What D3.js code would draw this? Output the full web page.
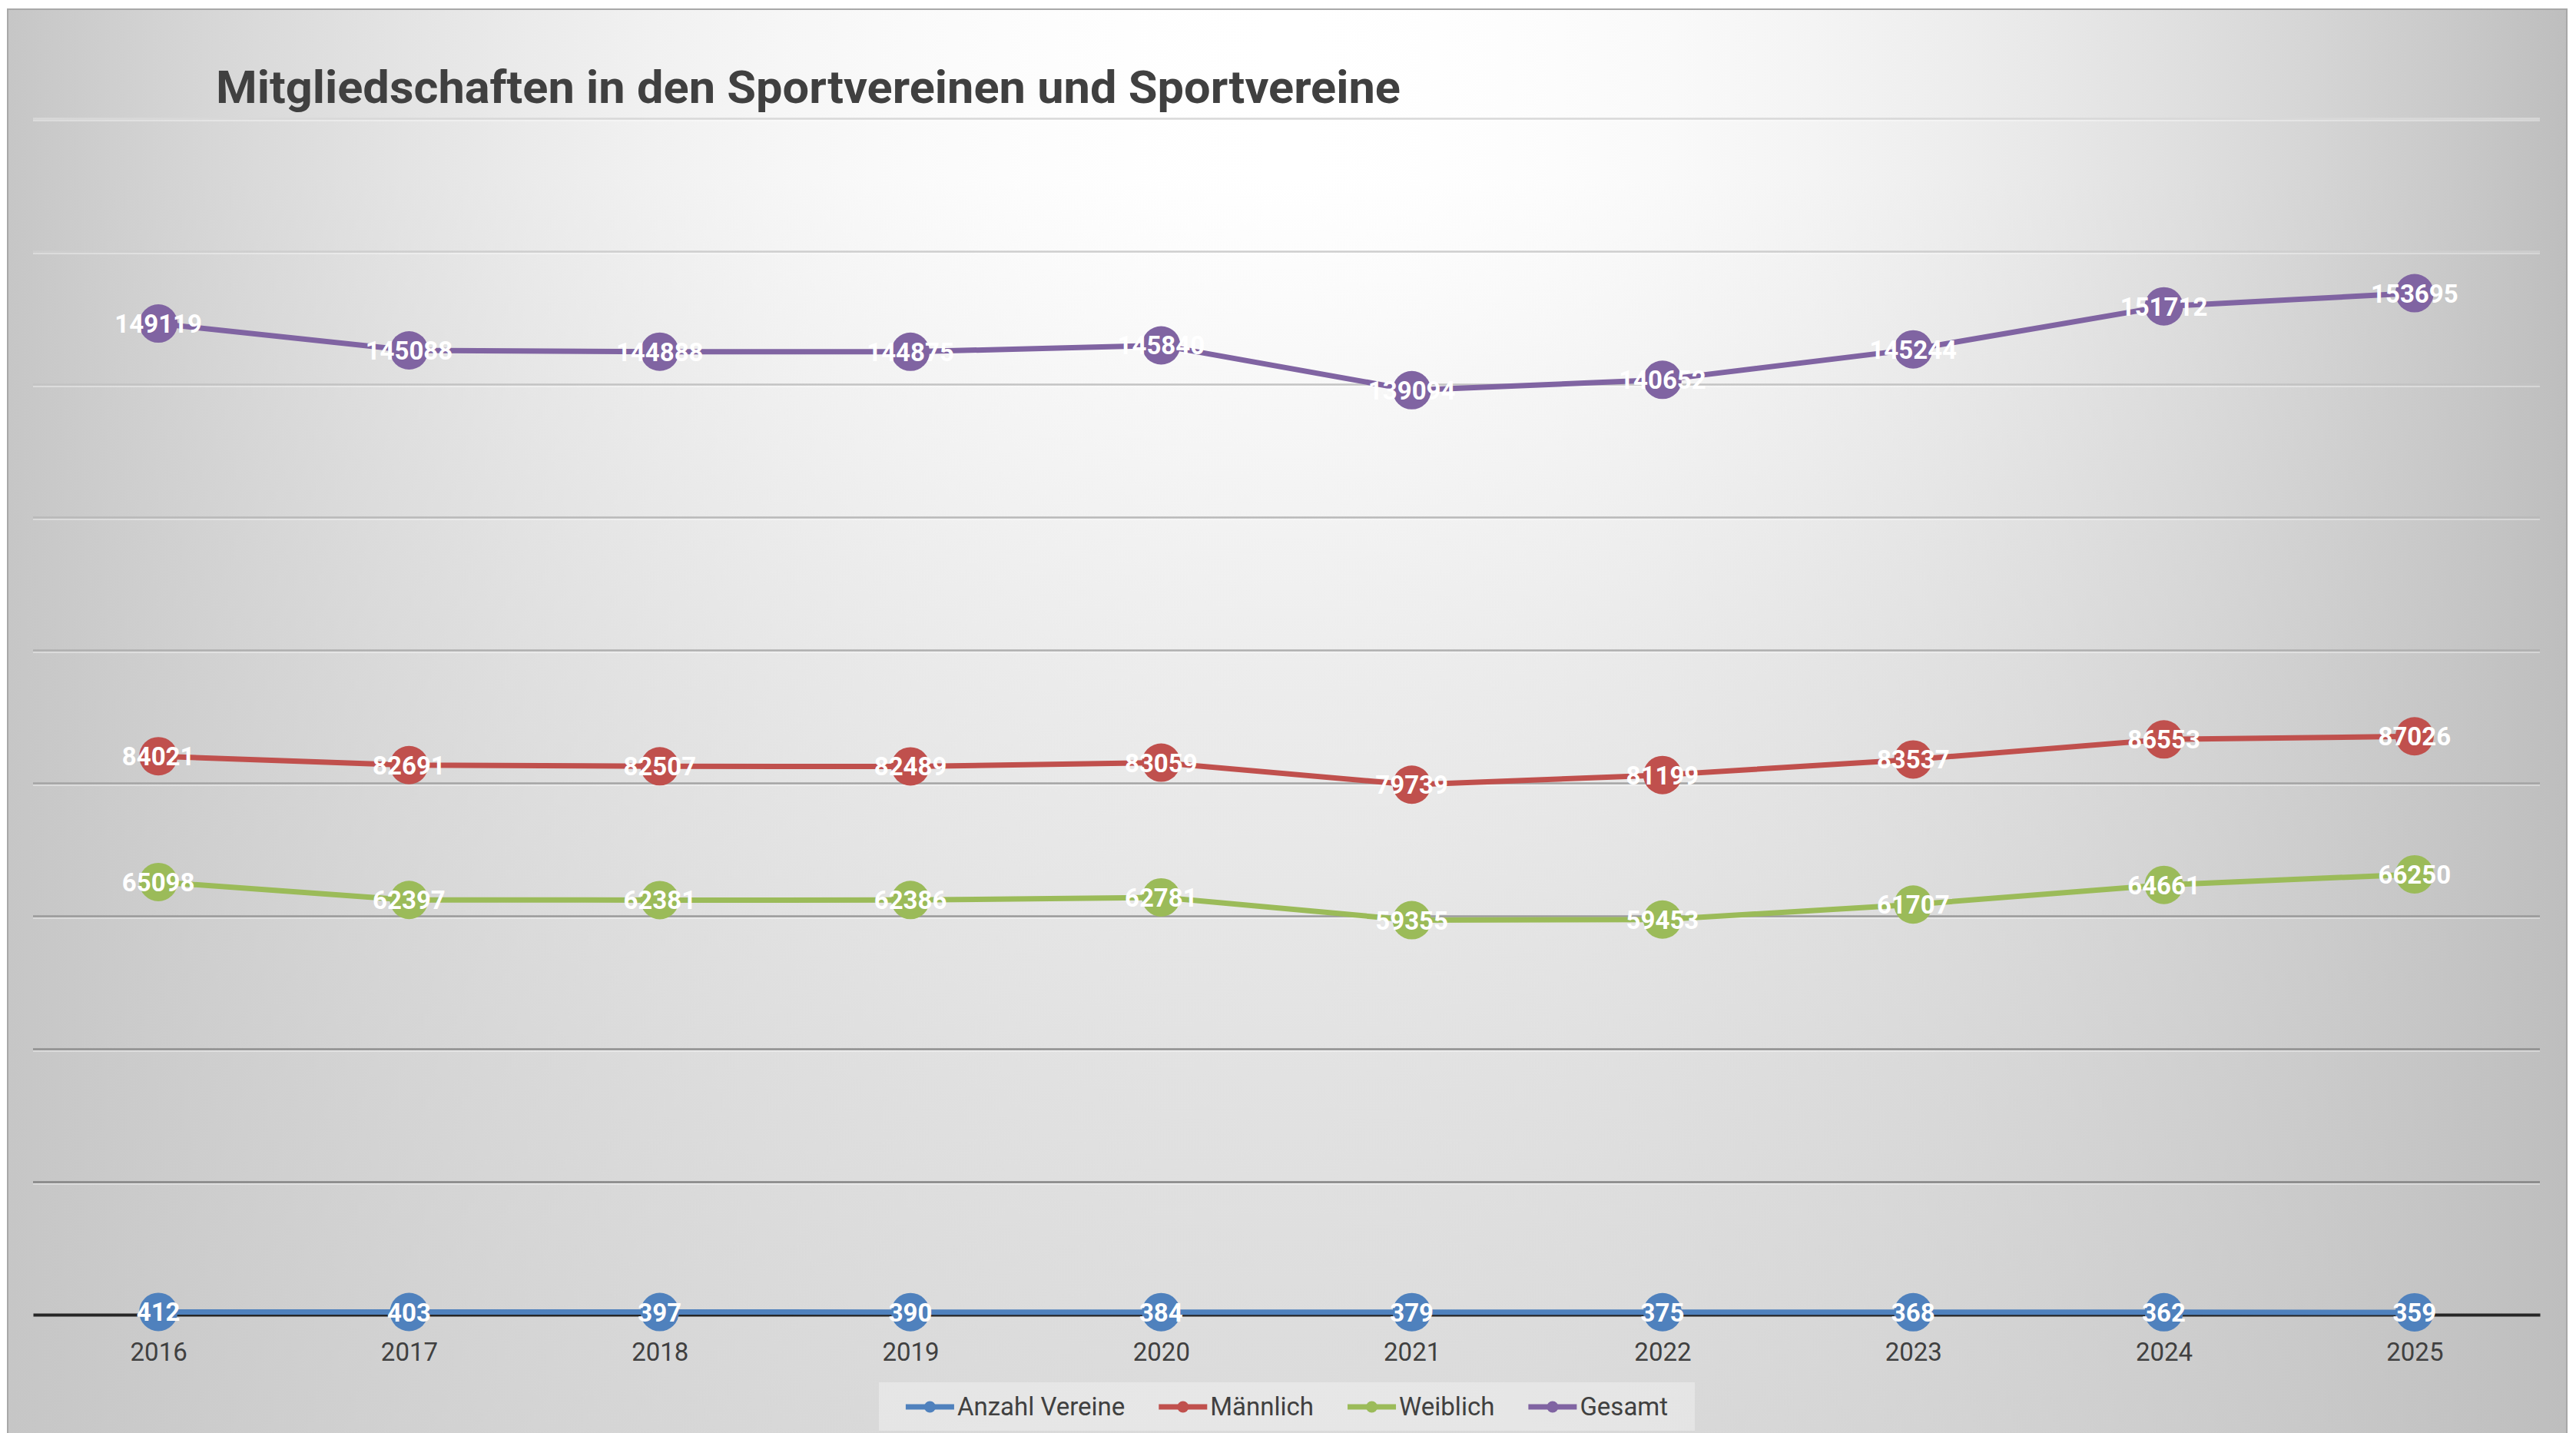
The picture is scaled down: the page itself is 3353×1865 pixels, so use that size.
<!DOCTYPE html>
<html>
<head>
<meta charset="utf-8">
<script src="https://cdn.jsdelivr.net/npm/d3@7"></script>
<style>
  html, body { margin: 0; padding: 0; background: #ffffff; }
  svg { display: block; }
  text { font-family: Roboto, "Open Sans", sans-serif; }
</style>
</head>
<body>
<svg id="chart" width="3353" height="1865"></svg>
<script>
// data
var years = ['2016', '2017', '2018', '2019', '2020', '2021', '2022', '2023', '2024', '2025']
var anzahlVereine = [412, 403, 397, 390, 384, 379, 375, 368, 362, 359]
var maennlich = [84021, 82691, 82507, 82489, 83059, 79739, 81199, 83537, 86553, 87026]
var weiblich = [65098, 62397, 62381, 62386, 62781, 59355, 59453, 61707, 64661, 66250]
var gesamt = [149119, 145088, 144888, 144875, 145840, 139094, 140652, 145244, 151712, 153695]
var seriesNames = ['Anzahl Vereine', 'Männlich', 'Weiblich', 'Gesamt']
var seriesColors = ['#4f81bd', '#c0504d', '#9bbb59', '#8064a2']
var gridTicks = [20000, 40000, 60000, 80000, 100000, 120000, 140000, 160000, 180000]
var titleText = 'Mitgliedschaften in den Sportvereinen und Sportvereine'

var W = 3353, H = 1865
var frame = {x: 10, y: 12, w: 3331}
var plot = {left: 43, right: 3306, top: 154, bottom: 1711}

var svg = d3.select('#chart')
var defs = svg.append('defs')

// background: light at the top centre, greying towards the bottom and much more to the sides
var vGrad = defs.append('linearGradient')
  .attr('id', 'bgV').attr('x1', 0).attr('y1', 0).attr('x2', 0).attr('y2', 1)
;[[0, '#ffffff'], [0.12, '#ffffff'], [0.22, '#fafafa'], [0.48, '#ececec'], [0.75, '#e2e2e2'], [1, '#dbdbdb']]
  .forEach(function(s) { vGrad.append('stop').attr('offset', s[0]).attr('stop-color', s[1]) })

var hGrad = defs.append('linearGradient')
  .attr('id', 'bgH').attr('x1', 0).attr('y1', 0).attr('x2', 1).attr('y2', 0)
d3.range(0, 1.0001, 0.05).forEach(function(t) {
  var u = Math.abs(t - 0.5) * 2
  hGrad.append('stop')
    .attr('offset', t)
    .attr('stop-color', t < 0.5 ? '#c6c6c6' : '#bebebe')
    .attr('stop-opacity', Math.pow(u, 2))
})

svg.append('rect')
  .attr('x', frame.x).attr('y', frame.y)
  .attr('width', frame.w).attr('height', H - frame.y + 2)
  .attr('fill', 'url(#bgV)')
svg.append('rect')
  .attr('x', frame.x).attr('y', frame.y)
  .attr('width', frame.w).attr('height', H - frame.y + 2)
  .attr('fill', 'url(#bgH)')
  .attr('stroke', '#a8a8a8')
  .attr('stroke-width', 2)

// scales
var x = d3.scalePoint().domain(years).range([plot.left, plot.right]).padding(0.5)
var y = d3.scaleLinear().domain([0, 180000]).range([plot.bottom, plot.top])

// gridlines (darker towards the bottom, like the original)
var gridShade = d3.scaleLinear().domain([20000, 180000]).range(['#858585', '#d8d8d8'])
var grid = svg.append('g')
  .attr('transform', 'translate(' + plot.left + ',0)')
  .call(d3.axisLeft(y).tickValues(gridTicks).tickSize(-(plot.right - plot.left)).tickFormat(''))
grid.select('.domain').remove()
grid.selectAll('.tick line')
  .attr('stroke', function(d) { return gridShade(d) })
  .attr('stroke-width', 2.5)
grid.selectAll('.tick').append('line')
  .attr('x1', 0).attr('x2', plot.right - plot.left)
  .attr('y1', 2.5).attr('y2', 2.5)
  .attr('stroke', '#ffffff').attr('stroke-opacity', 0.35).attr('stroke-width', 2)

// category axis
var xAxis = svg.append('g')
  .attr('transform', 'translate(0,' + plot.bottom + ')')
  .call(d3.axisBottom(x).tickSize(0).tickSizeOuter(0).tickPadding(37))
xAxis.select('.domain').attr('stroke', '#262626').attr('stroke-width', 4)
xAxis.selectAll('text')
  .attr('font-family', 'Roboto, sans-serif')
  .attr('font-size', 33)
  .attr('fill', '#404040')

// series
var allSeries = [anzahlVereine, maennlich, weiblich, gesamt]
var line = d3.line()
  .x(function(d, i) { return x(years[i]) })
  .y(function(d) { return y(d) })

allSeries.forEach(function(vals, si) {
  var g = svg.append('g').attr('class', 'series')
  g.append('path')
    .datum(vals)
    .attr('d', line)
    .attr('fill', 'none')
    .attr('stroke', seriesColors[si])
    .attr('stroke-width', 7)
    .attr('stroke-linejoin', 'round')
  g.selectAll('circle')
    .data(vals)
    .enter().append('circle')
    .attr('cx', function(d, i) { return x(years[i]) })
    .attr('cy', function(d) { return y(d) })
    .attr('r', 25)
    .attr('fill', seriesColors[si])
})

// data labels on top of all markers
allSeries.forEach(function(vals, si) {
  svg.append('g').selectAll('text')
    .data(vals)
    .enter().append('text')
    .attr('x', function(d, i) { return x(years[i]) })
    .attr('y', function(d) { return y(d) + 12 })
    .attr('text-anchor', 'middle')
    .attr('font-size', 33)
    .attr('font-weight', 700)
    .attr('fill', '#ffffff')
    .text(function(d) { return d })
})

// title
svg.append('text')
  .attr('x', 281).attr('y', 134)
  .attr('font-size', 60)
  .attr('font-weight', 700)
  .attr('fill', '#404040')
  .attr('textLength', 1542)
  .attr('lengthAdjust', 'spacingAndGlyphs')
  .text(titleText)

// legend
var legend = svg.append('g')
legend.append('rect')
  .attr('x', 1144).attr('y', 1799)
  .attr('width', 1062).attr('height', 63)
  .attr('fill', '#ffffff').attr('fill-opacity', 0.32)
var symW = 63, gapText = 4, gapItem = 44
var items = legend.selectAll('g.item')
  .data(seriesNames)
  .enter().append('g').attr('class', 'item')
items.append('line')
  .attr('x1', 0).attr('x2', symW).attr('y1', 0).attr('y2', 0)
  .attr('stroke', function(d, i) { return seriesColors[i] })
  .attr('stroke-width', 7)
items.append('circle')
  .attr('cx', symW / 2).attr('cy', 0).attr('r', 7.5)
  .attr('fill', function(d, i) { return seriesColors[i] })
items.append('text')
  .attr('x', symW + gapText).attr('y', 11)
  .attr('font-size', 33)
  .attr('fill', '#404040')
  .text(function(d) { return d })
var widths = []
items.each(function() { widths.push(d3.select(this).select('text').node().getComputedTextLength()) })
var total = d3.sum(widths) + seriesNames.length * (symW + gapText) + (seriesNames.length - 1) * gapItem
var cx = 1144 + 1062 / 2 - total / 2
items.attr('transform', function(d, i) {
  var pos = cx
  for (var k = 0; k < i; k++) pos += symW + gapText + widths[k] + gapItem
  return 'translate(' + pos + ',1831)'
})
</script>
</body>
</html>
